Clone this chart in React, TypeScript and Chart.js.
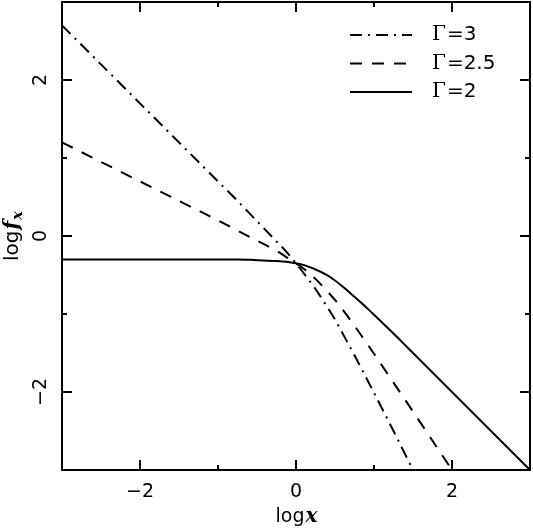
import React, { useEffect, useRef } from 'react';
import { Chart, registerables } from 'chart.js';

Chart.register(...registerables);

// log x sample positions
const logX = [-3, -2.5, -2, -1.5, -1, -0.75, -0.5, -0.25, -0.125, 0, 0.125, 0.25, 0.375, 0.5, 0.625, 0.75, 0.875, 1, 1.25, 1.5, 2, 2.5, 3];
// log f_x (Γ=2 solid)
const gamma2 = [-0.30, -0.30, -0.30, -0.30, -0.30, -0.30, -0.31, -0.32, -0.33, -0.35, -0.38, -0.43, -0.49, -0.57, -0.67, -0.78, -0.89, -1.01, -1.25, -1.50, -2.00, -2.50, -3.00];
// Γ=2.5 dashed (ends at the bottom frame)
const gamma25 = [1.20, 0.95, 0.70, 0.45, 0.20, 0.07, -0.06, -0.19, -0.27, -0.35, -0.44, -0.55, -0.68, -0.82, -0.98, -1.15, -1.33, -1.51, -1.88, -2.25, -3.00];
// Γ=3 dash-dot (ends at the bottom frame)
const gamma3 = [2.70, 2.20, 1.70, 1.20, 0.70, 0.45, 0.19, -0.07, -0.20, -0.35, -0.51, -0.68, -0.87, -1.07, -1.30, -1.53, -1.77, -2.01, -2.50, -3.00];

const seriesNames = ['3', '2.5', '2'];
const xRange = [-3, 3];
const yRange = [-3, 3];

const FONT = "'DejaVu Sans', sans-serif";
const SERIF = "'DejaVu Serif', serif";

const fmt = (v: number) => (v < 0 ? '\u2212' + Math.abs(v) : String(v));
const evenLabel = (v: any) => {
  const n = Number(v);
  return Math.abs(n % 2) === 0 ? fmt(n) : '';
};

const toPoints = (ys: number[]) => ys.map((y, i) => ({ x: logX[i], y }));

const zeroPad = (s: any) => {
  s.paddingTop = 0;
  s.paddingBottom = 0;
  s.paddingLeft = 0;
  s.paddingRight = 0;
};

const decorPlugin = {
  id: 'decor',
  afterDraw(chart: any) {
    const { ctx, chartArea: ca, scales } = chart;
    const xs = scales.x;
    const ys = scales.y;
    ctx.save();
    ctx.strokeStyle = '#000';
    ctx.fillStyle = '#000';
    ctx.lineWidth = 2;
    ctx.setLineDash([]);
    // frame
    ctx.strokeRect(ca.left, ca.top, ca.right - ca.left, ca.bottom - ca.top);
    // inward ticks on all four sides
    ctx.beginPath();
    for (let v = xRange[0] + 1; v < xRange[1]; v++) {
      const len = v % 2 === 0 ? 10 : 5;
      const px = Math.round(xs.getPixelForValue(v));
      ctx.moveTo(px, ca.bottom);
      ctx.lineTo(px, ca.bottom - len);
      ctx.moveTo(px, ca.top);
      ctx.lineTo(px, ca.top + len);
    }
    for (let v = yRange[0] + 1; v < yRange[1]; v++) {
      const len = v % 2 === 0 ? 10 : 5;
      const py = Math.round(ys.getPixelForValue(v));
      ctx.moveTo(ca.left, py);
      ctx.lineTo(ca.left + len, py);
      ctx.moveTo(ca.right, py);
      ctx.lineTo(ca.right - len, py);
    }
    ctx.stroke();

    // x axis title: log x
    ctx.textBaseline = 'alphabetic';
    ctx.textAlign = 'left';
    const regular = `19px ${FONT}`;
    const mathF = `bold italic 20px ${SERIF}`;
    ctx.font = regular;
    const wLog = ctx.measureText('log').width;
    ctx.font = mathF;
    const wX = ctx.measureText('x').width;
    const sx = (ca.left + ca.right) / 2 - (wLog + wX) / 2;
    ctx.font = regular;
    ctx.fillText('log', sx, 522);
    ctx.font = mathF;
    ctx.fillText('x', sx + wLog + 1, 522);

    // y axis title: log f_x (rotated)
    ctx.save();
    ctx.translate(18, (ca.top + ca.bottom) / 2);
    ctx.rotate(-Math.PI / 2);
    const yReg = `20px ${FONT}`;
    ctx.font = yReg;
    const wl = ctx.measureText('log').width;
    ctx.font = mathF;
    const wf = ctx.measureText('f').width;
    const subF = `bold italic 15px ${SERIF}`;
    ctx.font = subF;
    const ws = ctx.measureText('x').width;
    const tx = -(wl + wf + ws + 2) / 2;
    ctx.font = yReg;
    ctx.fillText('log', tx, 0);
    ctx.font = mathF;
    ctx.fillText('f', tx + wl + 1, 0);
    ctx.font = subF;
    ctx.fillText('x', tx + wl + wf + 2, 4);
    ctx.restore();

    // legend
    const lx0 = ca.right - 180;
    const lx1 = ca.right - 118;
    const tx0 = ca.right - 98;
    const legFont = `20px ${FONT}`;
    chart.data.datasets.forEach((ds: any, i: number) => {
      const y = ca.top + 33 + i * 28.5;
      ctx.lineWidth = 2;
      ctx.setLineDash(ds.borderDash || []);
      ctx.beginPath();
      ctx.moveTo(lx0, y);
      ctx.lineTo(lx1, y);
      ctx.stroke();
      ctx.setLineDash([]);
      ctx.textBaseline = 'middle';
      ctx.font = `20px ${SERIF}`;
      ctx.fillText('\u0393', tx0, y);
      const wg = ctx.measureText('\u0393').width;
      ctx.font = legFont;
      ctx.fillText('=' + seriesNames[i], tx0 + wg + 1, y);
    });
    ctx.restore();
  },
};

export default function App() {
  const ref = useRef<HTMLCanvasElement | null>(null);
  useEffect(() => {
    if (!ref.current) return;
    const chart = new Chart(ref.current, {
      type: 'line',
      data: {
        datasets: [
          {
            label: '\u0393=' + seriesNames[0],
            data: toPoints(gamma3),
            borderColor: '#000',
            borderWidth: 2,
            borderDash: [12, 6, 2, 6],
            pointRadius: 0,
            fill: false,
            cubicInterpolationMode: 'monotone',
          },
          {
            label: '\u0393=' + seriesNames[1],
            data: toPoints(gamma25),
            borderColor: '#000',
            borderWidth: 2,
            borderDash: [12, 10],
            pointRadius: 0,
            fill: false,
            cubicInterpolationMode: 'monotone',
          },
          {
            label: '\u0393=' + seriesNames[2],
            data: toPoints(gamma2),
            borderColor: '#000',
            borderWidth: 2,
            pointRadius: 0,
            fill: false,
            cubicInterpolationMode: 'monotone',
          },
        ],
      },
      options: {
        responsive: false,
        animation: false,
        devicePixelRatio: 1,
        layout: { padding: { top: 2, right: 3, left: 0, bottom: 0 } },
        plugins: { legend: { display: false }, tooltip: { enabled: false } },
        scales: {
          x: {
            type: 'linear',
            min: xRange[0],
            max: xRange[1],
            grid: { display: false, drawTicks: false },
            border: { display: false },
            ticks: {
              stepSize: 1,
              autoSkip: false,
              maxRotation: 0,
              padding: 11,
              color: '#000',
              font: { family: FONT, size: 19 },
              callback: evenLabel,
            },
            afterFit: (s: any) => {
              s.height = 61;
              zeroPad(s);
            },
          },
          y: {
            type: 'linear',
            min: yRange[0],
            max: yRange[1],
            grid: { display: false, drawTicks: false },
            border: { display: false },
            ticks: {
              stepSize: 1,
              autoSkip: false,
              minRotation: 90,
              maxRotation: 90,
              crossAlign: 'center',
              padding: 7,
              color: '#000',
              font: { family: FONT, size: 19 },
              callback: evenLabel,
            },
            afterFit: (s: any) => {
              s.width = 62;
              zeroPad(s);
            },
          },
        },
      },
      plugins: [decorPlugin],
    } as any);
    return () => chart.destroy();
  }, []);
  return (
    <div style={{ position: 'fixed', left: 0, top: 0, width: 533, height: 531, background: '#fff' }}>
      <canvas ref={ref} width={533} height={531} />
    </div>
  );
}
